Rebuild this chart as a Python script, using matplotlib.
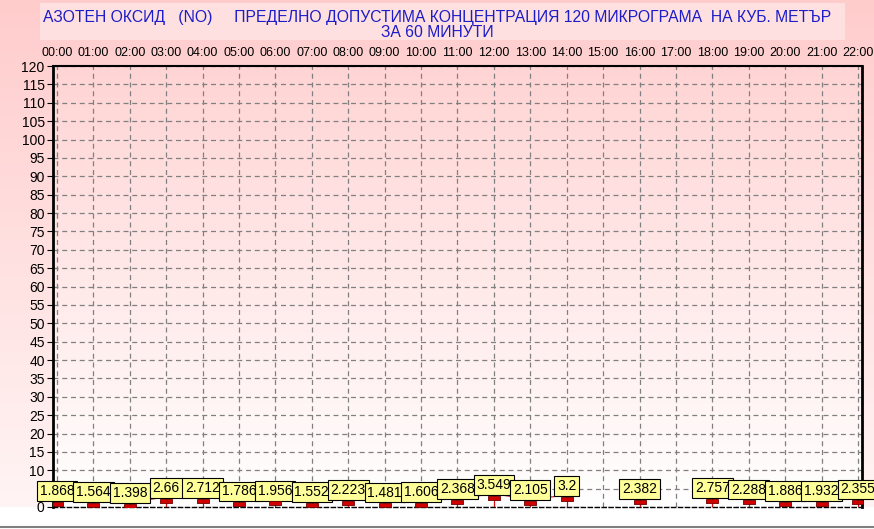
import matplotlib
matplotlib.use("Agg")
import matplotlib.pyplot as plt
import numpy as np

plt.rcParams['font.family'] = ['Liberation Sans', 'DejaVu Sans']

# hourly NO values (15:00 and 17:00 missing)
hours = np.arange(0, 23)
values = [1.868, 1.564, 1.398, 2.66, 2.712, 1.786, 1.956, 1.552, 2.223, 1.481,
          1.606, 2.368, 3.549, 2.105, 3.2, np.nan, 2.382, np.nan, 2.757, 2.288,
          1.886, 1.932, 2.355]
hour_labels = ["%02d:00" % h for h in hours]
y_ticks = np.arange(0, 125, 5)

title = ("АЗОТЕН ОКСИД   (NO)     ПРЕДЕЛНО ДОПУСТИМА КОНЦЕНТРАЦИЯ 120 МИКРОГРАМА  НА КУБ. МЕТЪР\n"
         "ЗА 60 МИНУТИ")

fig = plt.figure(figsize=(8.74, 5.29), dpi=100)

# figure background: pink fading to white
bg = fig.add_axes([0, 0, 1, 1], zorder=-10)
grad = np.linspace(0, 1, 256).reshape(-1, 1)
top_c = np.array([255, 204, 204]) / 255.0
bot_c = np.array([255, 246, 246]) / 255.0
img = top_c[None, None, :] * (1 - grad[..., None]) + bot_c[None, None, :] * grad[..., None]
bg.imshow(img, aspect='auto', extent=[0, 1, 0, 1])
bg.add_patch(plt.Rectangle((40 / 874, 1 - 40 / 529), 805 / 874, 37 / 529,
                           facecolor='#ffe0e0', edgecolor='none'))
bg.add_patch(plt.Rectangle((0, 0), 1, 1 - 507 / 529, facecolor='white', edgecolor='none'))
bg.axhline(1 - 527 / 529, color='#808080', lw=1.5)
bg.set_xlim(0, 1)
bg.set_ylim(0, 1)
bg.axis('off')

fig.text(0.5, 1 - 25 / 529, title, ha='center', va='center', color='#1c1cc8',
         fontsize=11.3, linespacing=1.05)

ax = fig.add_axes([53 / 874, 1 - 507 / 529, 809 / 874, 441 / 529])
ax.set_xlim(-0.11, 22.11)
ax.set_ylim(0, 120)

# plot area gradient
pgrad = np.linspace(0, 1, 256).reshape(-1, 1)
ptop = np.array([255, 212, 212]) / 255.0
pbot = np.array([255, 255, 255]) / 255.0
pimg = ptop[None, None, :] * (1 - pgrad[..., None]) + pbot[None, None, :] * pgrad[..., None]
ax.imshow(pimg, aspect='auto', extent=[-0.11, 22.11, 0, 120], zorder=0)

ax.set_xticks(hours)
ax.set_xticklabels(hour_labels, fontsize=9)
ax.xaxis.tick_top()
ax.tick_params(axis='x', length=0, pad=5)
ax.set_yticks(y_ticks)
ax.set_yticklabels([str(v) for v in y_ticks], fontsize=10)
ax.tick_params(axis='y', length=4, direction='out', pad=2)
ax.grid(True, color='#808080', linestyle=(0, (4, 3)), lw=0.9, zorder=1)

for side in ['left', 'right']:
    ax.spines[side].set_linewidth(2)
ax.spines['top'].set_linewidth(1.5)
ax.spines['top'].set_linestyle((0, (3, 1)))
ax.spines['bottom'].set_linewidth(1)
ax.spines['bottom'].set_linestyle((0, (3, 2)))

vals = np.array(values, dtype=float)
ok = ~np.isnan(vals)
ax.plot(hours, vals, color='#d01010', lw=0.8, zorder=3)
ax.vlines(hours[ok], 0, vals[ok], color='#d01010', lw=0.8, zorder=3)
rect = [(-1.1, -0.45), (1.1, -0.45), (1.1, 0.45), (-1.1, 0.45), (-1.1, -0.45)]
ax.plot(hours[ok], vals[ok] - 1.0, linestyle='none', marker=rect, markersize=8.5,
        markerfacecolor='#d00000', markeredgecolor='#700000', markeredgewidth=0.6,
        zorder=6)

for h, v in zip(hours[ok], vals[ok]):
    ax.annotate("%g" % v, (h, v), xytext=(0, 6.5), textcoords='offset points',
                ha='center', va='center', fontsize=10, zorder=5,
                bbox=dict(boxstyle='square,pad=0.2', facecolor='#ffff99',
                          edgecolor='black', lw=0.8),
                annotation_clip=False)

fig.savefig("out.png", dpi=100)
